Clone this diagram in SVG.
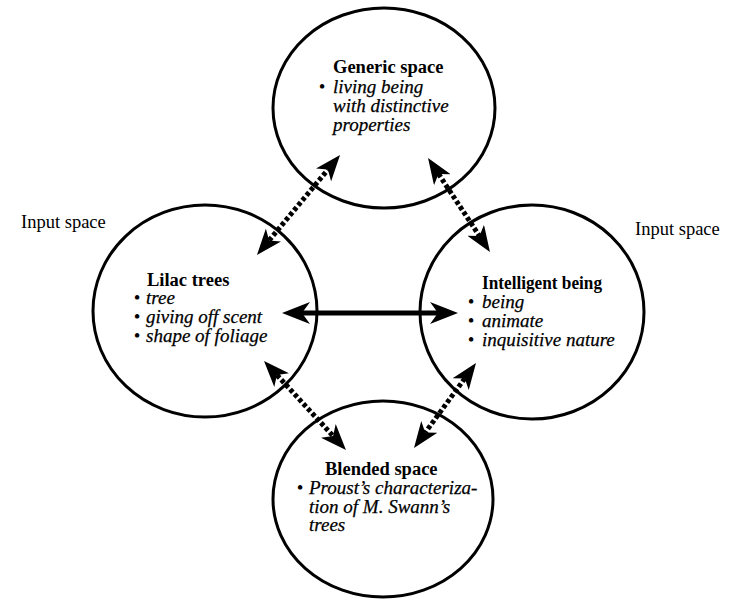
<svg xmlns="http://www.w3.org/2000/svg" width="733" height="602" viewBox="0 0 733 602">
<style>
.space{fill:none;stroke:#000;stroke-width:3}
.title{font-family:"Liberation Serif","Times New Roman",serif;font-weight:bold;font-size:18.5px;fill:#000}
.item{font-family:"Liberation Serif","Times New Roman",serif;font-style:italic;font-size:19px;fill:#000;stroke:#000;stroke-width:0.25}
.bul{font-family:"Liberation Serif","Times New Roman",serif;font-size:19px;fill:#000;text-anchor:middle}
.lbl{font-family:"Liberation Serif","Times New Roman",serif;font-size:18.5px;fill:#000}
.dot{fill:none;stroke:#000;stroke-width:5;stroke-dasharray:4 2.5;marker-start:url(#dh);marker-end:url(#dh)}
.solid{fill:none;stroke:#000;stroke-width:5;marker-start:url(#sh);marker-end:url(#sh)}
</style>
<defs>
<marker id="dh" viewBox="0 0 26 20" markerWidth="26" markerHeight="20" refX="7" refY="10" orient="auto-start-reverse" markerUnits="userSpaceOnUse">
<path d="M26,10 L0,0 L7,10 L0,20 Z" fill="#000"/>
</marker>
<marker id="sh" viewBox="0 0 28 22" markerWidth="28" markerHeight="22" refX="8" refY="11" orient="auto-start-reverse" markerUnits="userSpaceOnUse">
<path d="M28,11 L0,0 L8,11 L0,22 Z" fill="#000"/>
</marker>
</defs>
<rect width="733" height="602" fill="#fff"/>

<g id="generic">
<ellipse class="space" cx="384" cy="108" rx="111" ry="100"/>
<text class="title" x="333" y="73">Generic space</text>
<text class="bul" x="322" y="93">•</text>
<text class="item" x="333" y="93">living being</text>
<text class="item" x="333" y="112">with distinctive</text>
<text class="item" x="333" y="131">properties</text>
</g>

<g id="lilac">
<ellipse class="space" cx="205" cy="311" rx="112" ry="106"/>
<text class="title" x="147" y="286">Lilac trees</text>
<text class="bul" x="137" y="304">•</text>
<text class="item" x="146" y="304">tree</text>
<text class="bul" x="137" y="323">•</text>
<text class="item" x="146" y="323">giving off scent</text>
<text class="bul" x="137" y="342">•</text>
<text class="item" x="146" y="342">shape of foliage</text>
</g>

<g id="intelligent">
<ellipse class="space" cx="532" cy="312" rx="112" ry="107"/>
<text class="title" x="482" y="289" textLength="120" lengthAdjust="spacingAndGlyphs">Intelligent being</text>
<text class="bul" x="471" y="308">•</text>
<text class="item" x="482" y="308">being</text>
<text class="bul" x="471" y="327">•</text>
<text class="item" x="482" y="327">animate</text>
<text class="bul" x="471" y="346">•</text>
<text class="item" x="482" y="346">inquisitive nature</text>
</g>

<g id="blended">
<ellipse class="space" cx="383" cy="499" rx="110" ry="98"/>
<text class="title" x="325" y="475">Blended space</text>
<text class="bul" x="300" y="494">•</text>
<text class="item" x="309" y="494">Proust’s characteriza-</text>
<text class="item" x="309" y="513">tion of M. Swann’s</text>
<text class="item" x="309" y="531">trees</text>
</g>

<g id="input-left">
<text class="lbl" x="21" y="228">Input space</text>
</g>
<g id="input-right">
<text class="lbl" x="635" y="235">Input space</text>
</g>

<g id="connectors">
<line class="dot" x1="269.1" y1="240.4" x2="327.9" y2="169.6"/>
<line class="dot" x1="438.5" y1="173.9" x2="479.5" y2="236.1"/>
<line class="dot" x1="276.9" y1="375" x2="333.1" y2="436"/>
<line class="dot" x1="464.8" y1="378.4" x2="425.2" y2="432.6"/>
<line class="solid" x1="302" y1="313" x2="438" y2="313"/>
</g>
</svg>
